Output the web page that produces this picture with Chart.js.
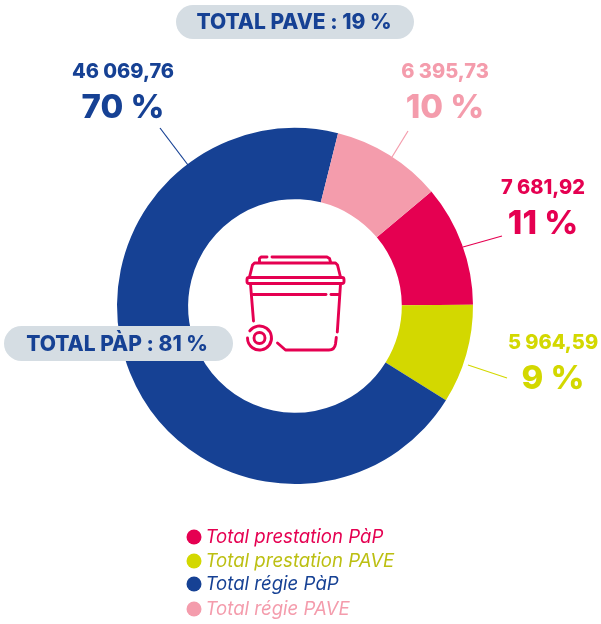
<!DOCTYPE html>
<html lang="fr">
<head>
<meta charset="utf-8">
<title>Total PàP / PAVE</title>
<script src="https://cdn.jsdelivr.net/npm/chart.js@4/dist/chart.umd.min.js"></script>
<style>
    html, body { margin: 0; padding: 0; background: #fff; }
    canvas { display: block; }
</style>
</head>
<body>
<canvas id="donut" width="601" height="624"></canvas>
<script>
const categories = ['Total prestation PàP', 'Total prestation PAVE', 'Total régie PàP', 'Total régie PAVE'];
const percents = [11, 9, 70, 10];
const amountLabels = ['7 681,92', '5 964,59', '46 069,76', '6 395,73'];
const percentLabels = ['11 %', '9 %', '70 %', '10 %'];
const totalLabels = ['TOTAL PAVE : 19 %', 'TOTAL PÀP : 81 %'];

const sliceColors = ['#e50051', '#d3d800', '#164194', '#f49cac'];
const legendTextColors = ['#e50051', '#bcbf12', '#164194', '#f49cac'];
const FONT = 'Inter, "Noto Sans", sans-serif';

// label block centre + leader line, same order as categories
const callouts = [
    { x: 543, y1: 188, y2: 224, line: [463, 247, 502, 236] },
    { x: 553, y1: 343, y2: 379, line: [468, 365, 507, 378] },
    { x: 123, y1: 72, y2: 108, line: [188, 165, 160, 128] },
    { x: 445, y1: 72, y2: 108, line: [392, 157, 408, 131] }
];
const pills = [
    { x: 176, y: 5, w: 238, h: 34, textX: 294 },
    { x: 4, y: 326, w: 229, h: 35, textX: 117 }
];
const legendRows = [537, 561, 584, 609];

function drawBin(ctx) {
    ctx.save();
    ctx.strokeStyle = '#e50051';
    ctx.lineWidth = 2.9;
    ctx.lineCap = 'round';
    ctx.lineJoin = 'round';
    const path = (pts) => {
        ctx.beginPath();
        pts.forEach((p, i) => i ? ctx.lineTo(p[0], p[1]) : ctx.moveTo(p[0], p[1]));
        ctx.stroke();
    };
    path([[259.5, 262], [259.5, 258.5], [261, 257], [267, 257]]);
    path([[272, 257], [327, 257], [329.5, 258.5], [330.5, 262]]);
    path([[249.5, 277], [252.5, 265], [254.5, 263], [335.5, 263], [337.5, 265], [340.5, 277]]);
    ctx.beginPath();
    ctx.roundRect(247, 277.5, 97, 6, 2);
    ctx.stroke();
    path([[250.5, 284], [253.5, 321]]);
    path([[253, 294.5], [326, 294.5]]);
    path([[331, 294.5], [338.5, 294.5]]);
    path([[340.5, 284], [337.3, 332]]);
    ctx.beginPath();
    ctx.moveTo(336.3, 337.5);
    ctx.lineTo(335.5, 344);
    ctx.quadraticCurveTo(334.5, 350, 329, 350);
    ctx.lineTo(285.5, 350);
    ctx.lineTo(277.5, 343);
    ctx.stroke();
    ctx.beginPath();
    ctx.arc(259.5, 338, 12, Math.PI * 1.2, Math.PI * 3);
    ctx.stroke();
    ctx.beginPath();
    ctx.arc(259.5, 338, 5.5, 0, Math.PI * 2);
    ctx.stroke();
    ctx.restore();
}

const annotationsPlugin = {
    id: 'annotations',
    afterDatasetsDraw(chart) {
        const ctx = chart.ctx;
        ctx.save();
        drawBin(ctx);

        ctx.textAlign = 'center';
        ctx.textBaseline = 'middle';
        pills.forEach((p, i) => {
            ctx.fillStyle = '#d5dde3';
            ctx.beginPath();
            ctx.roundRect(p.x, p.y, p.w, p.h, p.h / 2);
            ctx.fill();
            ctx.fillStyle = '#164194';
            ctx.font = `800 21px ${FONT}`;
            ctx.fillText(totalLabels[i], p.textX, p.y + p.h / 2 + 1);
        });

        callouts.forEach((c, i) => {
            ctx.strokeStyle = sliceColors[i];
            ctx.lineWidth = 1.2;
            ctx.beginPath();
            ctx.moveTo(c.line[0], c.line[1]);
            ctx.lineTo(c.line[2], c.line[3]);
            ctx.stroke();
            ctx.fillStyle = sliceColors[i];
            ctx.font = `800 20px ${FONT}`;
            ctx.fillText(amountLabels[i], c.x, c.y1);
            ctx.font = `800 33px ${FONT}`;
            ctx.fillText(percentLabels[i], c.x, c.y2);
        });

        ctx.textAlign = 'left';
        ctx.font = `italic 400 18.6px ${FONT}`;
        categories.forEach((name, i) => {
            ctx.fillStyle = sliceColors[i];
            ctx.beginPath();
            ctx.arc(194, legendRows[i], 7.5, 0, Math.PI * 2);
            ctx.fill();
            ctx.fillStyle = legendTextColors[i];
            ctx.fillText(name, 205.5, legendRows[i]);
        });
        ctx.restore();
    }
};

new Chart(document.getElementById('donut'), {
    type: 'doughnut',
    plugins: [annotationsPlugin],
    data: {
        labels: categories,
        datasets: [{
            data: percents,
            backgroundColor: sliceColors,
            borderWidth: 0
        }]
    },
    options: {
        responsive: false,
        animation: false,
        rotation: 50,
        cutout: '60%',
        layout: { padding: { left: 117, right: 128, top: 128, bottom: 140 } },
        plugins: {
            legend: { display: false },
            tooltip: { enabled: false }
        }
    }
});
</script>
</body>
</html>
